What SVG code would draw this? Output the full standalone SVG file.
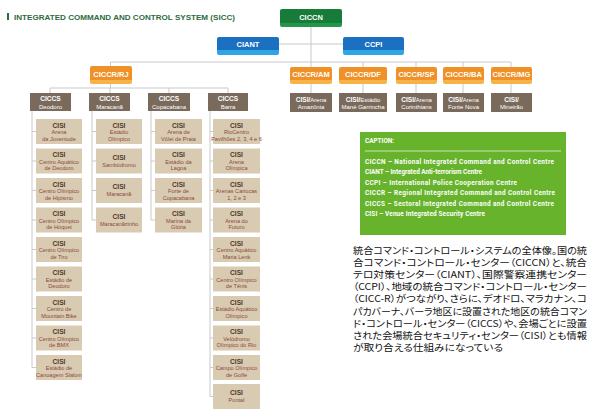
<svg xmlns="http://www.w3.org/2000/svg" width="590" height="417" viewBox="0 0 590 417">
<defs>
<linearGradient id="gG" x1="0" y1="0" x2="0" y2="1"><stop offset="0" stop-color="#177b3a"/><stop offset="0.78" stop-color="#177b3a"/><stop offset="0.78" stop-color="#23964a"/><stop offset="1" stop-color="#23964a"/></linearGradient>
<linearGradient id="gB" x1="0" y1="0" x2="0" y2="1"><stop offset="0" stop-color="#1b70c2"/><stop offset="0.75" stop-color="#1b70c2"/><stop offset="0.75" stop-color="#2ea6e4"/><stop offset="1" stop-color="#2ea6e4"/></linearGradient>
<linearGradient id="gO" x1="0" y1="0" x2="0" y2="1"><stop offset="0" stop-color="#ef9127"/><stop offset="0.78" stop-color="#ef9127"/><stop offset="0.78" stop-color="#f7b24a"/><stop offset="1" stop-color="#f7b24a"/></linearGradient>
</defs>
<style>
text{font-family:"Liberation Sans",Arial,sans-serif;}
.lbl{fill:#fff;font-weight:bold;font-size:7.5px;text-anchor:middle;}
.hdr{fill:#7a6a5c;}
.hb{fill:#fff;font-weight:bold;font-size:6.6px;text-anchor:middle;}
.hn{fill:#fff;font-size:6px;text-anchor:middle;}
.cisi{fill:#d9cab2;}
.cb{fill:#4e3a2c;font-weight:bold;font-size:6.6px;text-anchor:middle;}
.cn{fill:#8a4a3c;font-size:5.6px;text-anchor:middle;}
.ln{stroke:#c9c9c9;stroke-width:1;fill:none;}
.cap{fill:#fff;font-family:Roboto,"Liberation Sans",sans-serif;font-weight:bold;font-size:6.4px;}
.jp{fill:#111;font-family:"Noto Sans CJK JP",sans-serif;font-size:9.6px;font-feature-settings:"palt";}
</style>
<rect width="590" height="417" fill="#fff"/>
<g id="title">
<rect x="7" y="13" width="2" height="7" fill="#2d6b3d"/>
<text x="14" y="19.5" font-weight="bold" font-size="7.5" fill="#2d6b3d" textLength="221" lengthAdjust="spacingAndGlyphs">INTEGRATED COMMAND AND CONTROL SYSTEM (SICC)</text>
</g>
<g id="connectors" class="ln">
<path d="M311 27V93M279 44H343M110.5 62H511M110.5 62V66M363 62V93M416 62V93M463 62V93M511 62V93"/>
<path d="M110.5 84V88M50 88H228M50 88V93M110 88V93M169 88V93M228 88V93"/>
<path d="M32 111V367.5M92 111V220M151 111V220M210 111V396.5"/>
</g>
<g id="ciccn"><rect x="280" y="9" width="62" height="18" rx="2" fill="url(#gG)"/><text class="lbl" x="311" y="20">CICCN</text></g>
<g id="ciant"><rect x="217" y="37" width="62" height="18" rx="2" fill="url(#gB)"/><text class="lbl" x="248" y="47">CIANT</text></g>
<g id="ccpi"><rect x="343" y="37" width="61" height="18" rx="2" fill="url(#gB)"/><text class="lbl" x="373.5" y="47">CCPI</text></g>
<g id="ciccr-rj"><rect x="90" y="66" width="42" height="18" rx="2" fill="url(#gO)"/><text class="lbl" x="111" y="76.5" font-size="7">CICCR/RJ</text></g>
<g id="ciccr-am"><rect x="290" y="67" width="42" height="17" rx="2" fill="url(#gO)"/><text class="lbl" x="311" y="77" font-size="7">CICCR/AM</text></g>
<g id="ciccr-df"><rect x="339" y="67" width="48" height="17" rx="2" fill="url(#gO)"/><text class="lbl" x="363" y="77" font-size="7">CICCR/DF</text></g>
<g id="ciccr-sp"><rect x="396" y="67" width="41" height="17" rx="2" fill="url(#gO)"/><text class="lbl" x="416.5" y="77" font-size="7">CICCR/SP</text></g>
<g id="ciccr-ba"><rect x="443" y="67" width="41" height="17" rx="2" fill="url(#gO)"/><text class="lbl" x="463.5" y="77" font-size="7">CICCR/BA</text></g>
<g id="ciccr-mg"><rect x="491" y="67" width="41" height="17" rx="2" fill="url(#gO)"/><text class="lbl" x="511.5" y="77" font-size="7">CICCR/MG</text></g>
<g id="cisi-am"><rect class="hdr" x="290" y="93" width="42" height="19"/><text class="hn" x="311" y="101.5"><tspan font-weight="bold" font-size="6.6">CISI/</tspan>Arena</text><text class="hn" x="311" y="109">Amazônia</text></g>
<g id="cisi-df"><rect class="hdr" x="339" y="93" width="48" height="19"/><text class="hn" x="363" y="101.5"><tspan font-weight="bold" font-size="6.6">CISI/</tspan>Estádio</text><text class="hn" x="363" y="109">Mané Garrincha</text></g>
<g id="cisi-sp"><rect class="hdr" x="396" y="93" width="41" height="19"/><text class="hn" x="416.5" y="101.5"><tspan font-weight="bold" font-size="6.6">CISI/</tspan>Arena</text><text class="hn" x="416.5" y="109">Corinthians</text></g>
<g id="cisi-ba"><rect class="hdr" x="443" y="93" width="41" height="19"/><text class="hn" x="463.5" y="101.5"><tspan font-weight="bold" font-size="6.6">CISI/</tspan>Arena</text><text class="hn" x="463.5" y="109">Fonte Nova</text></g>
<g id="cisi-mg"><rect class="hdr" x="491" y="93" width="41" height="19"/><text class="hn" x="511.5" y="101.5"><tspan font-weight="bold" font-size="6.6">CISI/</tspan></text><text class="hn" x="511.5" y="109">Mineirão</text></g>
<g id="ciccs-deodoro"><rect class="hdr" x="30" y="93" width="41" height="18"/><text class="hb" x="50.5" y="100.5">CICCS</text><text class="hn" x="50.5" y="108.5">Deodoro</text></g>
<g id="ciccs-maracana"><rect class="hdr" x="89" y="93" width="41" height="18"/><text class="hb" x="109.5" y="100.5">CICCS</text><text class="hn" x="109.5" y="108.5">Maracanã</text></g>
<g id="ciccs-copacabana"><rect class="hdr" x="148" y="93" width="42" height="18"/><text class="hb" x="169" y="100.5">CICCS</text><text class="hn" x="169" y="108.5">Copacabana</text></g>
<g id="ciccs-barra"><rect class="hdr" x="208" y="93" width="40" height="18"/><text class="hb" x="228" y="100.5">CICCS</text><text class="hn" x="228" y="108.5">Barra</text></g>
<g id="ticks" class="ln">
<path d="M32 131.5h4M32 161h4M32 190.5h4M32 220h4M32 249.5h4M32 279h4M32 308.5h4M32 338h4M32 367.5h4"/>
<path d="M92 131.5h4M92 161h4M92 190.5h4M92 220h4"/>
<path d="M151 131.5h4M151 161h4M151 190.5h4M151 220h4"/>
<path d="M210 131.5h3M210 161h3M210 190.5h3M210 220h3M210 249.5h3M210 279h3M210 308.5h3M210 338h3M210 367.5h3M210 396.5h3"/>
</g>
<g id="d1"><rect class="cisi" x="36" y="119" width="46" height="25"/><text class="cb" x="59" y="127.5">CISI</text><text class="cn" x="59" y="134">Arena</text><text class="cn" x="59" y="140.5">da Juventude</text></g>
<g id="d2"><rect class="cisi" x="36" y="148.5" width="46" height="25"/><text class="cb" x="59" y="157">CISI</text><text class="cn" x="59" y="163.5">Centro Aquático</text><text class="cn" x="59" y="170">de Deodoro</text></g>
<g id="d3"><rect class="cisi" x="36" y="178" width="46" height="25"/><text class="cb" x="59" y="186.5">CISI</text><text class="cn" x="59" y="193">Centro Olímpico</text><text class="cn" x="59" y="199.5">de Hipismo</text></g>
<g id="d4"><rect class="cisi" x="36" y="207.5" width="46" height="25"/><text class="cb" x="59" y="216">CISI</text><text class="cn" x="59" y="222.5">Centro Olímpico</text><text class="cn" x="59" y="229">de Hóquei</text></g>
<g id="d5"><rect class="cisi" x="36" y="237" width="46" height="25"/><text class="cb" x="59" y="245.5">CISI</text><text class="cn" x="59" y="252">Centro Olímpico</text><text class="cn" x="59" y="258.5">de Tiro</text></g>
<g id="d6"><rect class="cisi" x="36" y="266.5" width="46" height="25"/><text class="cb" x="59" y="275">CISI</text><text class="cn" x="59" y="281.5">Estádio de</text><text class="cn" x="59" y="288">Deodoro</text></g>
<g id="d7"><rect class="cisi" x="36" y="296" width="46" height="25"/><text class="cb" x="59" y="304.5">CISI</text><text class="cn" x="59" y="311">Centro de</text><text class="cn" x="59" y="317.5">Mountain Bike</text></g>
<g id="d8"><rect class="cisi" x="36" y="325.5" width="46" height="25"/><text class="cb" x="59" y="334">CISI</text><text class="cn" x="59" y="340.5">Centro Olímpico</text><text class="cn" x="59" y="347">de BMX</text></g>
<g id="d9"><rect class="cisi" x="36" y="355" width="46" height="25"/><text class="cb" x="59" y="363.5">CISI</text><text class="cn" x="59" y="370">Estádio de</text><text class="cn" x="59" y="376.5">Canoagem Slalom</text></g>
<g id="m1"><rect class="cisi" x="96" y="119" width="46" height="25"/><text class="cb" x="119" y="127.5">CISI</text><text class="cn" x="119" y="134">Estádio</text><text class="cn" x="119" y="140.5">Olímpico</text></g>
<g id="m2"><rect class="cisi" x="96" y="148.5" width="46" height="25"/><text class="cb" x="119" y="159.5">CISI</text><text class="cn" x="119" y="166.5">Sambódromo</text></g>
<g id="m3"><rect class="cisi" x="96" y="178" width="46" height="25"/><text class="cb" x="119" y="189">CISI</text><text class="cn" x="119" y="196">Maracanã</text></g>
<g id="m4"><rect class="cisi" x="96" y="207.5" width="46" height="25"/><text class="cb" x="119" y="218.5">CISI</text><text class="cn" x="119" y="225.5">Maracanãzinho</text></g>
<g id="c1"><rect class="cisi" x="155" y="119" width="47" height="25"/><text class="cb" x="178.5" y="127.5">CISI</text><text class="cn" x="178.5" y="134">Arena de</text><text class="cn" x="178.5" y="140.5">Vôlei de Praia</text></g>
<g id="c2"><rect class="cisi" x="155" y="148.5" width="47" height="25"/><text class="cb" x="178.5" y="157">CISI</text><text class="cn" x="178.5" y="163.5">Estádio da</text><text class="cn" x="178.5" y="170">Lagoa</text></g>
<g id="c3"><rect class="cisi" x="155" y="178" width="47" height="25"/><text class="cb" x="178.5" y="186.5">CISI</text><text class="cn" x="178.5" y="193">Forte de</text><text class="cn" x="178.5" y="199.5">Copacabana</text></g>
<g id="c4"><rect class="cisi" x="155" y="207.5" width="47" height="25"/><text class="cb" x="178.5" y="216">CISI</text><text class="cn" x="178.5" y="222.5">Marina da</text><text class="cn" x="178.5" y="229">Glória</text></g>
<g id="b1"><rect class="cisi" x="213" y="119" width="47" height="25"/><text class="cb" x="236.5" y="127.5">CISI</text><text class="cn" x="236.5" y="134">RioCentro</text><text class="cn" x="236.5" y="140.5">Pavilhões 2, 3, 4 e 6</text></g>
<g id="b2"><rect class="cisi" x="213" y="148.5" width="47" height="25"/><text class="cb" x="236.5" y="157">CISI</text><text class="cn" x="236.5" y="163.5">Arena</text><text class="cn" x="236.5" y="170">Olímpica</text></g>
<g id="b3"><rect class="cisi" x="213" y="178" width="47" height="25"/><text class="cb" x="236.5" y="186.5">CISI</text><text class="cn" x="236.5" y="193">Arenas Cariocas</text><text class="cn" x="236.5" y="199.5">1, 2 e 3</text></g>
<g id="b4"><rect class="cisi" x="213" y="207.5" width="47" height="25"/><text class="cb" x="236.5" y="216">CISI</text><text class="cn" x="236.5" y="222.5">Arena do</text><text class="cn" x="236.5" y="229">Futuro</text></g>
<g id="b5"><rect class="cisi" x="213" y="237" width="47" height="25"/><text class="cb" x="236.5" y="245.5">CISI</text><text class="cn" x="236.5" y="252">Centro Aquático</text><text class="cn" x="236.5" y="258.5">Maria Lenk</text></g>
<g id="b6"><rect class="cisi" x="213" y="266.5" width="47" height="25"/><text class="cb" x="236.5" y="275">CISI</text><text class="cn" x="236.5" y="281.5">Centro Olímpico</text><text class="cn" x="236.5" y="288">de Tênis</text></g>
<g id="b7"><rect class="cisi" x="213" y="296" width="47" height="25"/><text class="cb" x="236.5" y="304.5">CISI</text><text class="cn" x="236.5" y="311">Estádio Aquático</text><text class="cn" x="236.5" y="317.5">Olímpico</text></g>
<g id="b8"><rect class="cisi" x="213" y="325.5" width="47" height="25"/><text class="cb" x="236.5" y="334">CISI</text><text class="cn" x="236.5" y="340.5">Velódromo</text><text class="cn" x="236.5" y="347">Olímpico do Rio</text></g>
<g id="b9"><rect class="cisi" x="213" y="355" width="47" height="25"/><text class="cb" x="236.5" y="363.5">CISI</text><text class="cn" x="236.5" y="370">Campo Olímpico</text><text class="cn" x="236.5" y="376.5">de Golfe</text></g>
<g id="b10"><rect class="cisi" x="213" y="384" width="47" height="25"/><text class="cb" x="236.5" y="395">CISI</text><text class="cn" x="236.5" y="402">Pontal</text></g>
<g id="caption">
<rect x="360" y="132" width="206" height="103" fill="#67b32c"/>
<text class="cap" x="365" y="142.5">CAPTION:</text>
<line x1="365" y1="151" x2="561" y2="151" stroke="#e6f2d6" stroke-width="0.8"/>
<text class="cap" x="365" y="163.5" textLength="189">CICCN – National Integrated Command and Control Centre</text>
<text class="cap" x="365" y="174" textLength="117">CIANT – Integrated Anti-terrorism Centre</text>
<text class="cap" x="365" y="184.5" textLength="152">CCPI – International Police Cooperation Centre</text>
<text class="cap" x="365" y="195" textLength="190">CICCR – Regional Integrated Command and Control Centre</text>
<text class="cap" x="365" y="205.5" textLength="189">CICCS – Sectoral Integrated Command and Control Centre</text>
<text class="cap" x="365" y="216" textLength="120">CISI – Venue Integrated Security Centre</text>
</g>
<g id="note">
<text class="jp"><tspan x="353" y="253.5" textLength="234" lengthAdjust="spacingAndGlyphs">統合コマンド・コントロール・システムの全体像。国の統</tspan><tspan x="353" y="265.7" textLength="234" lengthAdjust="spacingAndGlyphs">合コマンド・コントロール・センター（CICCN）と、統合</tspan><tspan x="353" y="277.9" textLength="234" lengthAdjust="spacingAndGlyphs">テロ対策センター（CIANT）、国際警察連携センター</tspan><tspan x="353" y="290.1" textLength="234" lengthAdjust="spacingAndGlyphs">（CCPI）、地域の統合コマンド・コントロール・センター</tspan><tspan x="353" y="302.3" textLength="234" lengthAdjust="spacingAndGlyphs">（CICC-R）がつながり、さらに、デオドロ、マラカナン、コ</tspan><tspan x="353" y="314.5" textLength="234" lengthAdjust="spacingAndGlyphs">パカバーナ、バーラ地区に設置された地区の統合コマン</tspan><tspan x="353" y="326.7" textLength="234" lengthAdjust="spacingAndGlyphs">ド・コントロール・センター（CICCS）や、会場ごとに設置</tspan><tspan x="353" y="338.9" textLength="234" lengthAdjust="spacingAndGlyphs">された会場統合セキュリティ・センター（CISI）とも情報</tspan><tspan x="353" y="351.1" textLength="150" lengthAdjust="spacingAndGlyphs">が取り合える仕組みになっている</tspan></text>
</g>
</svg>
